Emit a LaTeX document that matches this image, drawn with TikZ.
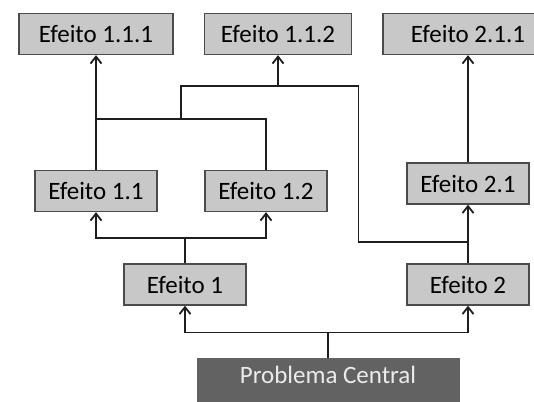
\documentclass[tikz,border=0pt]{standalone}
\usepackage{fontspec}
\setmainfont{Carlito}
\usepackage{xcolor}
\usetikzlibrary{arrows.meta,positioning}

\definecolor{efgray}{HTML}{C8C8C8}
\definecolor{pcgray}{HTML}{626262}
\definecolor{lnblack}{HTML}{1E1E1E}

\begin{document}
\begin{tikzpicture}[x=0.5pt, y=-0.5pt, >={Straight Barb[length=3.5pt,width=5.5pt]},
    efbox/.style={draw=lnblack!80, line width=0.65pt, fill=efgray, minimum width=61pt,
        minimum height=20.5pt, inner sep=0pt, font=\fontsize{12.5}{14}\selectfont},
    pcbox/.style={draw=pcgray, fill=pcgray, text=white!92!black, minimum width=131pt,
        text height=8pt, text depth=9pt, inner xsep=0pt, inner ysep=5pt, anchor=north,
        font=\fontsize{12.5}{14}\selectfont},
    link/.style={draw=lnblack, line width=0.9pt}]
    \useasboundingbox (0,0) rectangle (534,401);
    \clip (0,0) rectangle (534,401);

    % efeitos
    \node[efbox, minimum width=77pt] (e111) at (96,34) {Efeito 1.1.1};
    \node[efbox, minimum width=73.5pt] (e112) at (278,34) {Efeito 1.1.2};
    \node[efbox, minimum width=85pt] (e211) at (468,34) {Efeito 2.1.1};
    \node[efbox] (e11) at (96,191) {Efeito 1.1};
    \node[efbox] (e12) at (266,191) {Efeito 1.2};
    \node[efbox] (e21) at (468,183.5) {Efeito 2.1};
    \node[efbox] (e1) at (185,284.5) {Efeito 1};
    \node[efbox] (e2) at (468,284.5) {Efeito 2};
    \node[pcbox] (pc) at (328,357.5) {Problema Central};

    % juncoes
    \coordinate (j1) at (96,119);
    \coordinate (j2) at (181,119);
    \coordinate (j3) at (358.5,86);
    \coordinate (j4) at (468,242);
    \coordinate (j5) at (e112.south |- j3);

    \draw[link, ->] (pc.north) -- ++(0,-25) -| (e1.south);
    \draw[link, ->] (pc.north) -- ++(0,-25) -| (e2.south);
    \draw[link, ->] (e1.north) -- ++(0,-25.5) -| (e11.south);
    \draw[link, ->] (e1.north) -- ++(0,-25.5) -| (e12.south);
    \draw[link, ->] (e11.north) -- (e111.south);
    \draw[link] (e12.north) |- (j1);
    \draw[link] (j2) |- (j3) |- (j4);
    \draw[link, ->] (j5) -- (e112.south);
    \draw[link, ->] (e2.north) -- (e21.south);
    \draw[link, ->] (e21.north) -- (e211.south);
\end{tikzpicture}
\end{document}
